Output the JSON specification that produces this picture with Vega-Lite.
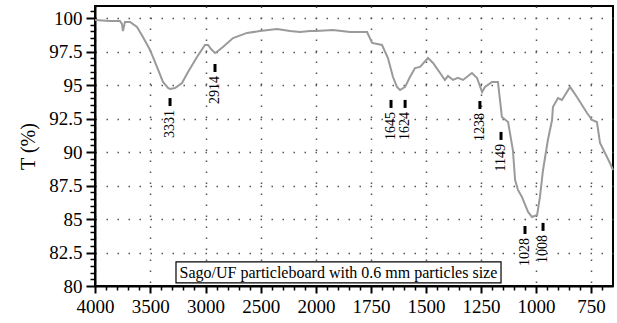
{
  "$schema": "https://vega.github.io/schema/vega-lite/v6.json",
  "width": 518,
  "height": 280,
  "autosize": {"type": "none"},
  "padding": {"left": 95, "top": 6, "right": 4, "bottom": 37},
  "background": "white",
  "config": {
    "view": {"stroke": "black", "strokeWidth": 2},
    "font": "Liberation Serif",
    "axis": {"labelFont": "Liberation Serif", "titleFont": "Liberation Serif", "labelColor": "black", "titleColor": "black", "tickColor": "black", "domainColor": "black"}
  },
  "datasets": {
    "spectrum": [
      {"wn": 4000, "T": 99.86}, {"wn": 3864, "T": 99.78}, {"wn": 3774, "T": 99.78}, {"wn": 3756, "T": 99.56},
      {"wn": 3747, "T": 99.03}, {"wn": 3729, "T": 99.71}, {"wn": 3683, "T": 99.71}, {"wn": 3620, "T": 99.33},
      {"wn": 3566, "T": 98.59}, {"wn": 3502, "T": 97.62}, {"wn": 3439, "T": 96.35}, {"wn": 3385, "T": 95.23},
      {"wn": 3339, "T": 94.78}, {"wn": 3321, "T": 94.71}, {"wn": 3276, "T": 94.78}, {"wn": 3213, "T": 95.15},
      {"wn": 3158, "T": 95.97}, {"wn": 3077, "T": 97.09}, {"wn": 3005, "T": 97.99}, {"wn": 2977, "T": 97.99},
      {"wn": 2950, "T": 97.69}, {"wn": 2914, "T": 97.39}, {"wn": 2887, "T": 97.54}, {"wn": 2842, "T": 97.84},
      {"wn": 2751, "T": 98.51}, {"wn": 2624, "T": 98.89}, {"wn": 2507, "T": 99.03}, {"wn": 2353, "T": 99.18},
      {"wn": 2235, "T": 99.03}, {"wn": 2145, "T": 98.96}, {"wn": 2054, "T": 99.03}, {"wn": 2000, "T": 99.03},
      {"wn": 1923, "T": 99.11}, {"wn": 1845, "T": 98.96}, {"wn": 1768, "T": 98.96}, {"wn": 1745, "T": 98.14},
      {"wn": 1700, "T": 97.99}, {"wn": 1673, "T": 97.02}, {"wn": 1650, "T": 95.6}, {"wn": 1632, "T": 94.86},
      {"wn": 1618, "T": 94.63}, {"wn": 1595, "T": 94.86}, {"wn": 1573, "T": 95.6}, {"wn": 1550, "T": 96.27},
      {"wn": 1527, "T": 96.35}, {"wn": 1491, "T": 97.02}, {"wn": 1468, "T": 96.65}, {"wn": 1436, "T": 95.9},
      {"wn": 1414, "T": 95.38}, {"wn": 1400, "T": 95.68}, {"wn": 1377, "T": 95.38}, {"wn": 1355, "T": 95.53},
      {"wn": 1332, "T": 95.38}, {"wn": 1291, "T": 95.9}, {"wn": 1268, "T": 95.53}, {"wn": 1245, "T": 94.48},
      {"wn": 1232, "T": 94.86}, {"wn": 1200, "T": 95.23}, {"wn": 1173, "T": 95.23}, {"wn": 1155, "T": 92.62},
      {"wn": 1127, "T": 92.24}, {"wn": 1105, "T": 90.15}, {"wn": 1095, "T": 87.91}, {"wn": 1082, "T": 87.17},
      {"wn": 1064, "T": 86.65}, {"wn": 1036, "T": 85.53}, {"wn": 1018, "T": 85.15}, {"wn": 995, "T": 85.3},
      {"wn": 982, "T": 86.65}, {"wn": 968, "T": 88.66}, {"wn": 946, "T": 90.9}, {"wn": 927, "T": 92.39},
      {"wn": 923, "T": 93.36}, {"wn": 900, "T": 94.03}, {"wn": 882, "T": 93.89}, {"wn": 845, "T": 94.86},
      {"wn": 814, "T": 94.11}, {"wn": 768, "T": 92.91}, {"wn": 745, "T": 92.39}, {"wn": 723, "T": 92.24},
      {"wn": 709, "T": 90.68}, {"wn": 664, "T": 89.18}, {"wn": 650, "T": 88.66}
    ],
    "peaks": [
      {"lbl": "3331", "pos": 3321, "t": 94.03},
      {"lbl": "2914", "pos": 2914, "t": 96.57},
      {"lbl": "1645", "pos": 1659, "t": 93.89},
      {"lbl": "1624", "pos": 1595, "t": 93.89},
      {"lbl": "1238", "pos": 1255, "t": 93.81},
      {"lbl": "1149", "pos": 1159, "t": 91.5},
      {"lbl": "1028", "pos": 1050, "t": 84.48},
      {"lbl": "1008", "pos": 968, "t": 84.71}
    ],
    "note": [
      {"text": "Sago/UF particleboard with 0.6 mm particles size", "x1": 3267, "x2": 1159, "y1": 81.8, "y2": 80.23, "xc": 1898, "yc": 81.0}
    ]
  },
  "layer": [
    {
      "data": {"name": "spectrum"},
      "mark": {"type": "line", "color": "#9a9a9a", "strokeWidth": 2},
      "encoding": {
        "x": {
          "field": "wn", "type": "quantitative",
          "scale": {"domain": [4000, 2000, 650], "range": [0, 221, 518], "zero": false, "nice": false},
          "axis": {
            "orient": "bottom", "title": null,
            "values": [4000, 3500, 3000, 2500, 2000, 1750, 1500, 1250, 1000, 750],
            "format": "d", "labelFontSize": 19, "labelPadding": 4, "labelFlush": false, "labelOverlap": false,
            "tickSize": 7, "tickWidth": 2, "domainWidth": 2,
            "grid": true, "gridDash": [1.5, 9.5], "gridColor": "#555", "gridWidth": 1.5
          }
        },
        "y": {
          "field": "T", "type": "quantitative",
          "scale": {"domain": [80, 100.9], "zero": false, "nice": false},
          "axis": {
            "orient": "left", "title": "T (%)", "titleFontSize": 20, "titleFontWeight": "normal", "titlePadding": 10,
            "values": [80, 82.5, 85, 87.5, 90, 92.5, 95, 97.5, 100],
            "format": ".1~f", "labelFontSize": 19, "labelPadding": 4,
            "tickSize": 9, "tickWidth": 2, "domainWidth": 2,
            "grid": true, "gridDash": [1.5, 9.5], "gridColor": "#555", "gridWidth": 1.5
          }
        }
      }
    },
    {
      "mark": {"type": "rule", "color": "black", "strokeWidth": 1.5, "strokeDash": [8, 4]},
      "encoding": {"x": {"datum": 2000, "type": "quantitative", "axis": null}}
    },
    {
      "data": {"name": "peaks"},
      "mark": {"type": "rule", "color": "black", "strokeWidth": 3, "y2Offset": 8},
      "encoding": {
        "x": {
          "field": "pos", "type": "quantitative",
          "axis": {
            "orient": "bottom", "title": null, "labels": false, "grid": false, "domain": false,
            "values": [3900, 3800, 3700, 3600, 3400, 3300, 3200, 3100, 2900, 2800, 2700, 2600, 2400, 2300, 2200, 2100, 1950, 1900, 1850, 1800, 1700, 1650, 1600, 1550, 1450, 1400, 1350, 1300, 1200, 1150, 1100, 1050, 950, 900, 850, 800, 700],
            "tickSize": 4, "tickWidth": 1.5
          }
        },
        "y": {
          "field": "t", "type": "quantitative",
          "axis": {
            "orient": "left", "title": null, "labels": false, "grid": false, "domain": false,
            "values": [80.5, 81, 81.5, 82, 83, 83.5, 84, 84.5, 85.5, 86, 86.5, 87, 88, 88.5, 89, 89.5, 90.5, 91, 91.5, 92, 93, 93.5, 94, 94.5, 95.5, 96, 96.5, 97, 98, 98.5, 99, 99.5, 100.5],
            "tickSize": 5, "tickWidth": 1.5
          }
        },
        "y2": {"field": "t"}
      }
    },
    {
      "data": {"name": "peaks"},
      "mark": {"type": "text", "angle": 270, "align": "right", "baseline": "middle", "fontSize": 14, "font": "Liberation Serif", "color": "black", "yOffset": 12},
      "encoding": {
        "x": {"field": "pos", "type": "quantitative", "axis": null},
        "y": {"field": "t", "type": "quantitative", "axis": null},
        "text": {"field": "lbl"}
      }
    },
    {
      "data": {"name": "note"},
      "mark": {"type": "rect", "fill": "white", "stroke": "black", "strokeWidth": 1.2},
      "encoding": {
        "x": {"field": "x1", "type": "quantitative", "axis": null},
        "x2": {"field": "x2"},
        "y": {"field": "y1", "type": "quantitative", "axis": null},
        "y2": {"field": "y2"}
      }
    },
    {
      "data": {"name": "note"},
      "mark": {"type": "text", "align": "center", "baseline": "middle", "fontSize": 16, "font": "Liberation Serif", "color": "black"},
      "encoding": {
        "x": {"field": "xc", "type": "quantitative", "axis": null},
        "y": {"field": "yc", "type": "quantitative", "axis": null},
        "text": {"field": "text"}
      }
    }
  ],
  "resolve": {"axis": {"x": "independent", "y": "independent"}}
}
